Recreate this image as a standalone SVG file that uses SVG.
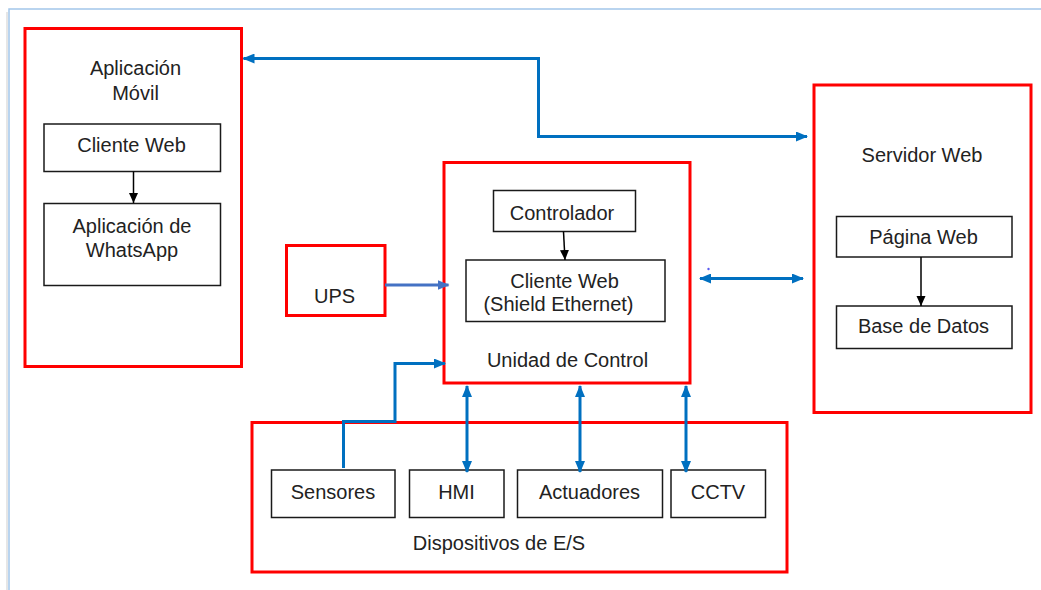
<svg xmlns="http://www.w3.org/2000/svg" width="1041" height="590" viewBox="0 0 1041 590">
  <style>
    .frame { fill: none; stroke: #A3C6EA; stroke-width: 1.5; }
    .shadow { fill: none; stroke: #E6E6E6; stroke-width: 2; }
    .red { fill: #FFFFFF; stroke: #FF0000; stroke-width: 3; }
    .box { fill: #FFFFFF; stroke: #1A1A1A; stroke-width: 1.5; }
    .t { font-family: "Liberation Sans", Arial, sans-serif; font-size: 20px; fill: #222222; text-anchor: middle; }
    .blue { fill: none; stroke: #0070C0; stroke-width: 3; }
    .ups { fill: none; stroke: #4472C4; stroke-width: 3; }
    .blk { fill: none; stroke: #000000; stroke-width: 1.5; }
  </style>
  <defs>
    <marker id="bh" viewBox="0 0 12 10" refX="11" refY="5" markerWidth="12" markerHeight="10" markerUnits="userSpaceOnUse" orient="auto-start-reverse">
      <path d="M0,0 L12,5 L0,10 Z" fill="#0070C0"/>
    </marker>
    <marker id="uh" viewBox="0 0 12 10" refX="11" refY="5" markerWidth="12" markerHeight="10" markerUnits="userSpaceOnUse" orient="auto">
      <path d="M0,0 L12,5 L0,10 Z" fill="#4472C4"/>
    </marker>
    <marker id="kh" viewBox="0 0 10 10" refX="10" refY="5" markerWidth="10" markerHeight="10" markerUnits="userSpaceOnUse" orient="auto">
      <path d="M0,0.5 L10,5 L0,9.5 Z" fill="#000000"/>
    </marker>
  </defs>
  <rect width="1041" height="590" fill="#FFFFFF"/>
  <path class="shadow" d="M7,12 V590"/>
  <path class="frame" d="M9,590 V9 H1041"/>

  <g id="app-movil">
    <rect class="red" x="25" y="28.5" width="216.5" height="338"/>
    <text class="t" x="135.5" y="75">Aplicación</text>
    <text class="t" x="135.5" y="99.5">Móvil</text>
  </g>
  <g id="cliente-web-app">
    <rect class="box" x="44" y="124" width="176.5" height="47.5"/>
    <text class="t" x="131.5" y="151.5">Cliente Web</text>
  </g>
  <g id="whatsapp">
    <rect class="box" x="44" y="203.5" width="176.5" height="82"/>
    <text class="t" x="132" y="232.5">Aplicación de</text>
    <text class="t" x="132" y="256.5">WhatsApp</text>
  </g>

  <g id="servidor-web">
    <rect class="red" x="814" y="85" width="217" height="327.5"/>
    <text class="t" x="922" y="161.5">Servidor Web</text>
  </g>
  <g id="pagina-web">
    <rect class="box" x="836.5" y="216.5" width="175.5" height="40.5"/>
    <text class="t" x="923.5" y="244">Página Web</text>
  </g>
  <g id="base-datos">
    <rect class="box" x="836.5" y="306" width="175.5" height="42.5"/>
    <text class="t" x="923.5" y="332.5">Base de Datos</text>
  </g>

  <g id="ups">
    <rect class="red" x="286.5" y="245.5" width="98.5" height="70"/>
    <text class="t" x="334.5" y="303">UPS</text>
  </g>

  <g id="unidad-control">
    <rect class="red" x="444" y="162.5" width="246" height="220.5"/>
    <text class="t" x="567.5" y="366.5">Unidad de Control</text>
  </g>
  <g id="controlador">
    <rect class="box" x="493.5" y="190.5" width="142" height="41"/>
    <text class="t" x="562" y="220">Controlador</text>
  </g>
  <g id="cliente-web-shield">
    <rect class="box" x="466" y="260" width="199" height="61.5"/>
    <text class="t" x="564.5" y="288">Cliente Web</text>
    <text class="t" x="558.5" y="311">(Shield Ethernet)</text>
  </g>

  <g id="dispositivos">
    <rect class="red" x="252" y="422.5" width="535" height="149.5"/>
    <text class="t" x="499" y="549.5">Dispositivos de E/S</text>
  </g>
  <g id="sensores">
    <rect class="box" x="271.5" y="470" width="123.5" height="47.5"/>
    <text class="t" x="333" y="498.5">Sensores</text>
  </g>
  <g id="hmi">
    <rect class="box" x="409.5" y="470" width="94.5" height="47.5"/>
    <text class="t" x="456.5" y="498.5">HMI</text>
  </g>
  <g id="actuadores">
    <rect class="box" x="517.5" y="470" width="145" height="47.5"/>
    <text class="t" x="589.5" y="498.5">Actuadores</text>
  </g>
  <g id="cctv">
    <rect class="box" x="671" y="470" width="94.5" height="47.5"/>
    <text class="t" x="718" y="498.5">CCTV</text>
  </g>

  <g id="connectors">
    <path class="blk" d="M133.5,171.5 V203" marker-end="url(#kh)"/>
    <path class="blk" d="M563.5,231.5 L565,260" marker-end="url(#kh)"/>
    <path class="blk" d="M921,257 V306" marker-end="url(#kh)"/>
    <path class="blue" d="M243.5,58.5 H538.5 V136.5 H807" marker-start="url(#bh)" marker-end="url(#bh)"/>
    <path class="blue" d="M700,278.5 H803" marker-start="url(#bh)" marker-end="url(#bh)"/>
    <path class="ups" d="M385,285 H448.5" marker-end="url(#uh)"/>
    <path class="blue" d="M343.5,468 V421.5 H395 V363.5 H445" marker-end="url(#bh)"/>
    <path class="blue" d="M467,386 V472" marker-start="url(#bh)" marker-end="url(#bh)"/>
    <path class="blue" d="M580,386 V472" marker-start="url(#bh)" marker-end="url(#bh)"/>
    <path class="blue" d="M686,386 V472" marker-start="url(#bh)" marker-end="url(#bh)"/>
    <circle cx="708.5" cy="269" r="1.2" fill="#5A5AF0"/>
  </g>
</svg>
